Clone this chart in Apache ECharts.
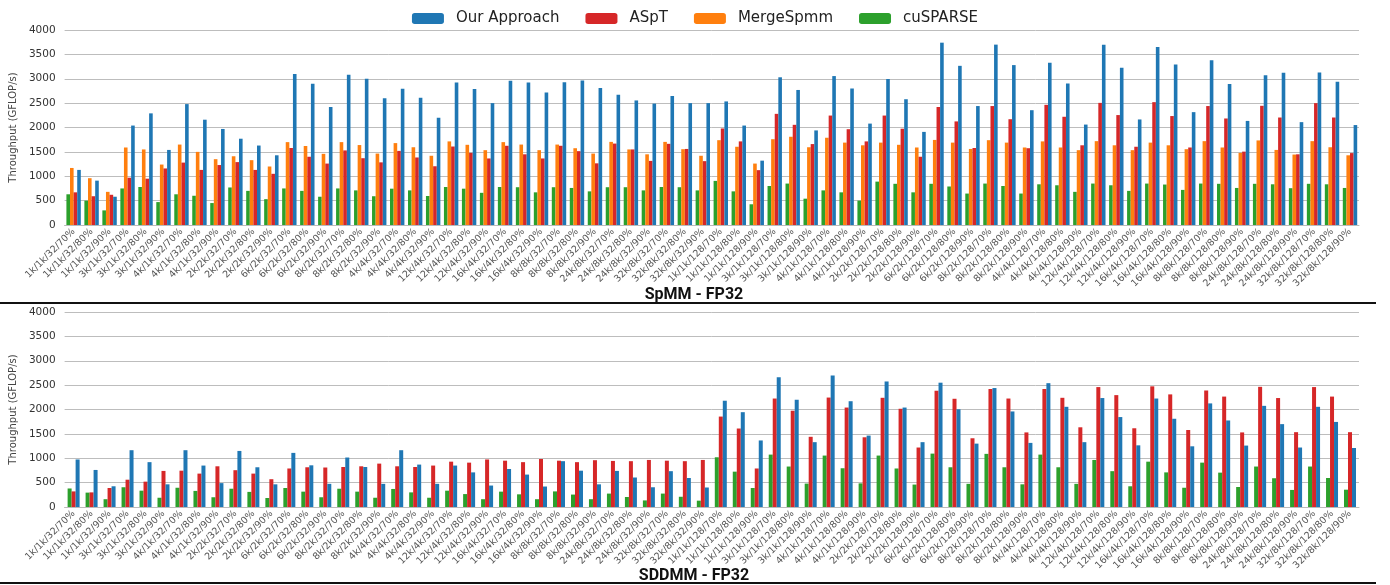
<!DOCTYPE html>
<html>
<head>
<meta charset="utf-8">
<script src="https://cdn.jsdelivr.net/npm/echarts@6/dist/echarts.min.js"></script>
<style>
  html, body { margin: 0; padding: 0; background: #fff; }
  #chart { width: 1390px; height: 585px; }
</style>
</head>
<body>
<div id="chart"></div>
<script>
var sizes = ['1k/1k', '3k/1k', '4k/1k', '2k/2k', '6k/2k', '8k/2k', '4k/4k', '12k/4k', '16k/4k', '8k/8k', '24k/8k', '32k/8k'];
var ks = ['32', '128'];
var sparsity = ['70%', '80%', '90%'];

var categories = [];
ks.forEach(function (k) {
    sizes.forEach(function (s) {
        sparsity.forEach(function (p) {
            categories.push(s + '/' + k + '/' + p);
        });
    });
});

// SpMM - FP32
var spmmOurs = [1130, 910, 580, 2040, 2290, 1540, 2480, 2160, 1970, 1770, 1630, 1430,
    3100, 2900, 2420, 3080, 3000, 2600, 2795, 2610, 2200, 2925, 2790, 2500,
    2960, 2925, 2720, 2930, 2965, 2810, 2670, 2555, 2490, 2645, 2500, 2500,
    2535, 2040, 1320, 3030, 2770, 1940, 3055, 2800, 2080, 2995, 2580, 1910,
    3740, 3265, 2440, 3700, 3280, 2355, 3330, 2905, 2060, 3700, 3225, 2165,
    3650, 3290, 2315, 3380, 2890, 2135, 3070, 3125, 2110, 3130, 2940, 2050];
var spmmAspt = [670, 590, 620, 970, 950, 1160, 1280, 1130, 1230, 1290, 1130, 1050,
    1580, 1400, 1260, 1530, 1370, 1285, 1520, 1385, 1205, 1610, 1480, 1365,
    1625, 1450, 1365, 1625, 1515, 1265, 1670, 1550, 1315, 1665, 1560, 1310,
    1980, 1715, 1125, 2280, 2055, 1660, 2245, 1965, 1715, 2245, 1975, 1400,
    2420, 2125, 1580, 2440, 2170, 1575, 2465, 2220, 1635, 2505, 2255, 1605,
    2520, 2235, 1590, 2440, 2185, 1505, 2445, 2205, 1450, 2500, 2205, 1475];
var spmmMerge = [1170, 960, 680, 1590, 1550, 1240, 1650, 1500, 1350, 1410, 1330, 1200,
    1700, 1620, 1460, 1700, 1640, 1465, 1680, 1595, 1420, 1715, 1645, 1535,
    1700, 1650, 1535, 1650, 1575, 1465, 1705, 1550, 1450, 1705, 1555, 1420,
    1740, 1605, 1260, 1760, 1810, 1595, 1790, 1690, 1635, 1690, 1645, 1590,
    1745, 1690, 1560, 1740, 1690, 1590, 1715, 1590, 1535, 1720, 1635, 1535,
    1690, 1635, 1555, 1720, 1590, 1480, 1735, 1540, 1445, 1720, 1595, 1430];
var spmmCusparse = [630, 500, 300, 750, 780, 470, 630, 600, 450, 770, 700, 530,
    750, 700, 580, 750, 710, 590, 745, 710, 595, 780, 745, 660,
    780, 775, 670, 775, 760, 690, 775, 775, 710, 780, 775, 710,
    905, 690, 425, 800, 850, 540, 710, 670, 500, 890, 845, 670,
    845, 790, 645, 850, 800, 645, 835, 815, 680, 850, 815, 700,
    850, 830, 720, 850, 845, 760, 845, 835, 755, 845, 835, 760];

// SDDMM - FP32
var sddmmOurs = [975, 760, 425, 1165, 920, 465, 1165, 850, 490, 1150, 815, 465,
    1110, 855, 475, 1015, 820, 475, 1165, 870, 475, 850, 710, 440,
    780, 665, 420, 940, 745, 465, 740, 605, 405, 735, 595, 400,
    2180, 1945, 1365, 2660, 2200, 1330, 2700, 2170, 1465, 2575, 2040, 1330,
    2550, 2005, 1300, 2440, 1960, 1315, 2540, 2055, 1330, 2235, 1845, 1265,
    2225, 1810, 1245, 2125, 1775, 1260, 2075, 1700, 1220, 2055, 1745, 1210];
var sddmmAspt = [320, 300, 390, 560, 520, 740, 745, 685, 835, 755, 685, 570,
    790, 815, 810, 820, 835, 890, 835, 820, 850, 930, 910, 975,
    950, 920, 985, 950, 920, 960, 945, 940, 965, 950, 940, 965,
    1855, 1610, 790, 2225, 1975, 1440, 2245, 2040, 1430, 2240, 2015, 1220,
    2385, 2220, 1410, 2420, 2225, 1530, 2420, 2240, 1635, 2460, 2295, 1615,
    2475, 2310, 1580, 2390, 2265, 1530, 2465, 2235, 1535, 2460, 2265, 1535];
var sddmmCusparse = [380, 295, 160, 405, 335, 190, 395, 330, 200, 375, 310, 185,
    390, 315, 200, 375, 315, 190, 370, 300, 190, 335, 265, 160,
    315, 260, 160, 320, 255, 160, 275, 205, 135, 275, 210, 130,
    1020, 725, 390, 1075, 830, 480, 1055, 795, 485, 1055, 790, 460,
    1095, 815, 475, 1090, 815, 465, 1075, 815, 475, 965, 735, 425,
    930, 710, 395, 910, 705, 410, 830, 590, 350, 830, 595, 355];

var blue = '#1f77b4', red = '#d62728', orange = '#ff7f0e', green = '#2ca02c';
var font = 'DejaVu Sans';

var myChart = echarts.init(document.getElementById('chart'));

function xAxisFor(idx) {
    return {
        type: 'category',
        gridIndex: idx,
        data: categories,
        axisTick: { show: false },
        axisLine: { lineStyle: { color: '#bbb' } },
        axisLabel: {
            interval: 0,
            rotate: 45,
            fontSize: 9.5,
            fontFamily: font,
            color: '#555',
            margin: 5
        }
    };
}

function yAxisFor(idx) {
    return {
        type: 'value',
        gridIndex: idx,
        min: 0,
        max: 4000,
        interval: 500,
        name: 'Throughput (GFLOP/s)',
        nameLocation: 'middle',
        nameGap: 36,
        nameTextStyle: { fontSize: 10, fontFamily: font, color: '#444' },
        axisLine: { show: false },
        axisTick: { show: false },
        axisLabel: {
            fontSize: 10.5,
            fontFamily: font,
            color: '#333',
            margin: 9,
            formatter: function (v) { return String(v); }
        },
        splitLine: { lineStyle: { color: '#bdbdbd', width: 1 } }
    };
}

function bar(name, data, color, idx, width) {
    return {
        name: name,
        type: 'bar',
        xAxisIndex: idx,
        yAxisIndex: idx,
        data: data,
        barWidth: width,
        barGap: '0%',
        itemStyle: { color: color },
        animation: false
    };
}

myChart.setOption({
    animation: false,
    legend: {
        top: 6,
        left: 'center',
        itemWidth: 32,
        itemHeight: 11,
        itemGap: 26,
        data: ['Our Approach', 'ASpT', 'MergeSpmm', 'cuSPARSE'],
        textStyle: { fontSize: 15, fontFamily: font, color: '#222', padding: [0, 0, 0, 7] }
    },
    title: [
        {
            text: 'SpMM - FP32',
            left: 689,
            textAlign: 'center',
            top: 282,
            textStyle: { fontSize: 16, fontWeight: 'bold', fontFamily: 'Roboto', color: '#111' }
        },
        {
            text: 'SDDMM - FP32',
            left: 689,
            textAlign: 'center',
            top: 563,
            textStyle: { fontSize: 16, fontWeight: 'bold', fontFamily: 'Roboto', color: '#111' }
        }
    ],
    grid: [
        { left: 50, right: 31, top: 30, height: 195 },
        { left: 50, right: 31, top: 312, height: 195 }
    ],
    xAxis: [xAxisFor(0), xAxisFor(1)],
    yAxis: [yAxisFor(0), yAxisFor(1)],
    graphic: [
        { type: 'line', shape: { x1: 0, y1: 303, x2: 1376, y2: 303 }, style: { stroke: '#111', lineWidth: 2 } },
        { type: 'line', shape: { x1: 0, y1: 583, x2: 1376, y2: 583 }, style: { stroke: '#111', lineWidth: 2 } }
    ],
    series: [
        bar('cuSPARSE', spmmCusparse, green, 0, 3.6),
        bar('MergeSpmm', spmmMerge, orange, 0, 3.6),
        bar('ASpT', spmmAspt, red, 0, 3.6),
        bar('Our Approach', spmmOurs, blue, 0, 3.6),
        bar('cuSPARSE', sddmmCusparse, green, 1, 4),
        bar('ASpT', sddmmAspt, red, 1, 4),
        bar('Our Approach', sddmmOurs, blue, 1, 4)
    ]
});
</script>
</body>
</html>
